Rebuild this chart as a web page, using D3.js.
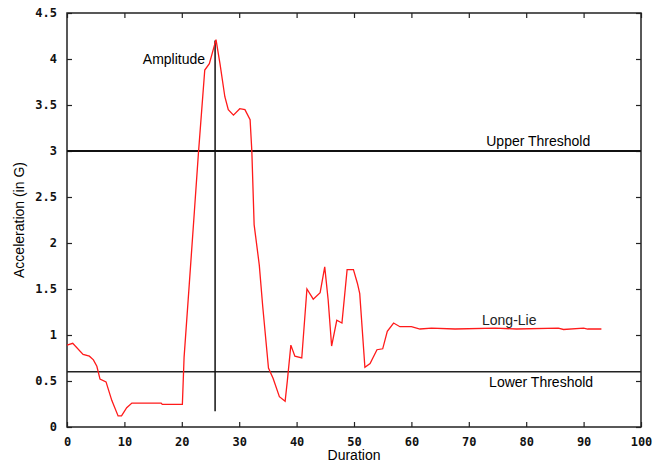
<!DOCTYPE html>
<html>
<head>
<meta charset="utf-8">
<script src="https://cdn.jsdelivr.net/npm/d3@7"></script>
<style>
  body { margin: 0; background: #fff; }
  text { font-family: "Liberation Sans", Arial, sans-serif; }
  .tick-label { font-family: "DejaVu Sans Mono", monospace; font-weight: bold; font-size: 12px; fill: #111; }
</style>
</head>
<body>
<svg id="svg1" width="662" height="462"></svg>
<script>
'use strict';

// acceleration trace
let duration = [0, 1, 2.8, 3.9, 4.6, 5.2, 5.75, 6.8, 7.8, 8.9, 9.5, 10.4, 11.3, 16.4, 16.6, 20.1,
    20.4, 21.3, 22.2, 22.9, 24.0, 24.8, 25.96, 26.65, 27.5, 28.1, 29.0, 30.1, 31.0, 31.9,
    32.2, 32.6, 33.5, 34.1, 35.1, 35.9, 37.0, 38.0, 38.4, 39.0, 39.7, 40.9, 41.8, 42.9, 44.1,
    44.9, 45.5, 46.1, 47.0, 47.9, 48.8, 49.9, 50.6, 51.0, 51.9, 52.8, 54.0, 55.0, 55.8, 56.9,
    58.0, 60.0, 61.5, 63.5, 67.6, 74.6, 78.3, 85.6, 86.5, 90.0, 90.7, 93.1];
let acceleration = [0.89, 0.91, 0.79, 0.77, 0.73, 0.66, 0.52, 0.49, 0.29, 0.12, 0.12, 0.21, 0.26, 0.26, 0.245, 0.245,
    0.76, 1.55, 2.35, 2.98, 3.88, 3.95, 4.21, 3.95, 3.59, 3.45, 3.39, 3.46, 3.45, 3.34,
    3.0, 2.2, 1.76, 1.31, 0.64, 0.53, 0.33, 0.28, 0.51, 0.89, 0.77, 0.75, 1.50, 1.39, 1.46,
    1.74, 1.38, 0.88, 1.16, 1.13, 1.71, 1.71, 1.56, 1.45, 0.65, 0.69, 0.84, 0.85, 1.04, 1.13,
    1.09, 1.09, 1.065, 1.075, 1.065, 1.075, 1.065, 1.075, 1.06, 1.075, 1.065, 1.065];

let xTicks = [0, 10, 20, 30, 40, 50, 60, 70, 80, 90, 100];
let yTicks = [0, 0.5, 1, 1.5, 2, 2.5, 3, 3.5, 4, 4.5];

let upperThreshold = 3;
let lowerThreshold = 0.6;
let amplitudeAt = [25.8, 0.17, 4.2];   // x, from, to
let longLieAt = [72.3, 1.07];

let marginTop = 13;
let marginBottom = 35;
let marginLeft = 67;
let marginRight = 21;

let svg = d3.select("#svg1");
let width = svg.attr("width") - marginLeft - marginRight,
    height = svg.attr("height") - marginTop - marginBottom,
    x = d3.scaleLinear().domain([0, 100]).range([0, width]),
    y = d3.scaleLinear().domain([0, 4.5]).range([height, 0]),
    g = svg.append("g").attr("transform", `translate(${marginLeft},${marginTop})`);

// axes with inward ticks, mirrored on top and right
g.append("g")
  .attr("transform", `translate(0,${height})`)
  .call(d3.axisBottom(x).tickValues(xTicks).tickSize(-5).tickPadding(10).tickFormat(d3.format("d")));
g.append("g")
  .call(d3.axisLeft(y).tickValues(yTicks).tickSize(-5).tickPadding(10).tickFormat(d => d3.format(".1~f")(d)));
g.append("g")
  .call(d3.axisTop(x).tickValues(xTicks).tickSize(-5).tickFormat(""));
g.append("g")
  .attr("transform", `translate(${width},0)`)
  .call(d3.axisRight(y).tickValues(yTicks).tickSize(-5).tickFormat(""));

g.selectAll(".domain").remove();
g.selectAll(".tick line").attr("stroke", "#222").attr("stroke-width", 1.2);
g.selectAll(".tick text").attr("class", "tick-label");

// frame
g.append("rect")
  .attr("width", width)
  .attr("height", height)
  .attr("fill", "none")
  .attr("stroke", "#222")
  .attr("stroke-width", 1.5);

// thresholds
g.append("line")
  .attr("x1", 0).attr("x2", width)
  .attr("y1", y(upperThreshold)).attr("y2", y(upperThreshold))
  .attr("stroke", "#111").attr("stroke-width", 2);
g.append("line")
  .attr("x1", 0).attr("x2", width)
  .attr("y1", y(lowerThreshold)).attr("y2", y(lowerThreshold))
  .attr("stroke", "#222").attr("stroke-width", 1.5);

// amplitude marker
g.append("line")
  .attr("x1", x(amplitudeAt[0])).attr("x2", x(amplitudeAt[0]))
  .attr("y1", y(amplitudeAt[1])).attr("y2", y(amplitudeAt[2]))
  .attr("stroke", "#111").attr("stroke-width", 1.5);

// the trace
let line = d3.line()
  .x((d, i) => x(duration[i]))
  .y(d => y(d));
g.append("path")
  .datum(acceleration)
  .attr("fill", "none")
  .attr("stroke", "#ff1a1a")
  .attr("stroke-width", 1.3)
  .attr("d", line);

// annotations
g.append("text")
  .attr("x", x(amplitudeAt[0]) - 10)
  .attr("y", y(4.0) + 5)
  .attr("text-anchor", "end")
  .style("font-size", "14px")
  .text("Amplitude");
g.append("text")
  .attr("x", x(82.1))
  .attr("y", y(upperThreshold) - 5)
  .attr("text-anchor", "middle")
  .style("font-size", "14px")
  .text("Upper Threshold");
g.append("text")
  .attr("x", x(82.6))
  .attr("y", y(lowerThreshold) + 15)
  .attr("text-anchor", "middle")
  .style("font-size", "14px")
  .text("Lower Threshold");
g.append("text")
  .attr("x", x(longLieAt[0]))
  .attr("y", y(longLieAt[1]) - 4)
  .style("font-size", "14px")
  .style("fill", "#222")
  .text("Long-Lie");

// axis titles
svg.append("text")
  .attr("x", marginLeft + width / 2)
  .attr("y", 460)
  .attr("text-anchor", "middle")
  .style("font-size", "14px")
  .text("Duration");
svg.append("text")
  .attr("transform", `translate(24,${marginTop + height / 2}) rotate(-90)`)
  .attr("text-anchor", "middle")
  .style("font-size", "14px")
  .text("Acceleration (in G)");
</script>
</body>
</html>
